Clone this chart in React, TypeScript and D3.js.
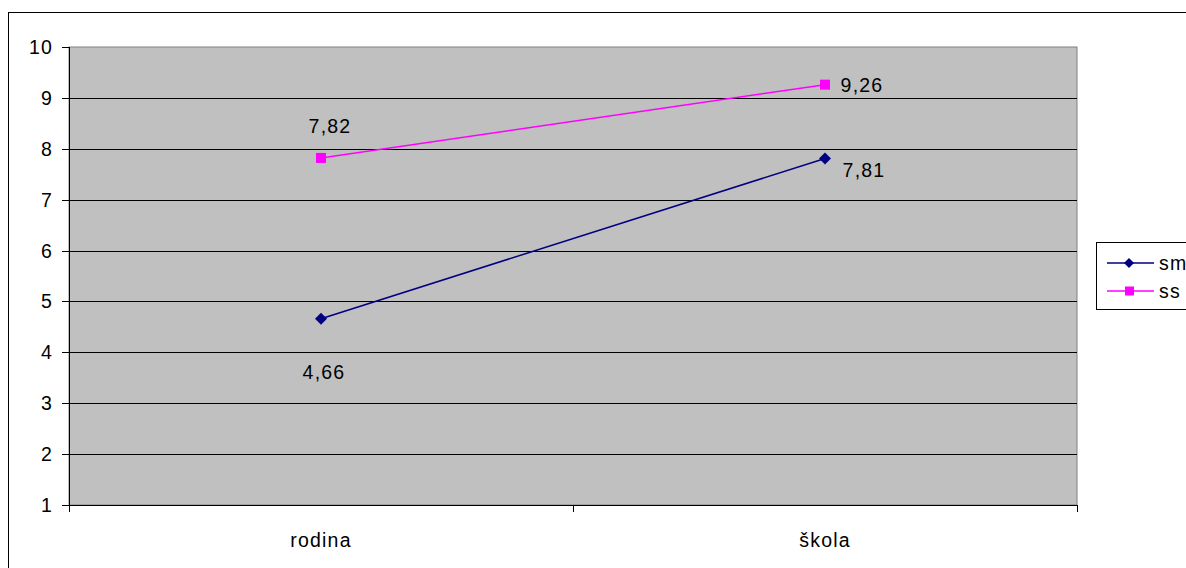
import React from "react";
import * as d3 from "d3";

const categories = ["rodina", "škola"];
const smValues = [4.66, 7.81];
const ssValues = [7.82, 9.26];
const yTicks = [1, 2, 3, 4, 5, 6, 7, 8, 9, 10];
const seriesNames = ["sm", "ss"];

export default function App() {
  const W = 1186, H = 568;
  const left = 69, right = 1077, top = 47, bottom = 505;
  const x = d3.scaleBand<string>().domain(categories).range([left, right]);
  const y = d3.scaleLinear().domain([1, 10]).range([bottom, top]);
  const cx = (c: string) => (x(c) as number) + x.bandwidth() / 2;
  const line = d3.line<number>().x((_, i) => cx(categories[i])).y((v) => y(v));
  const font = "'Liberation Sans', Arial, sans-serif";
  const navy = "#000080", mag = "#FF00FF";
  const fs = 19.5, ls = 1.2;
  const diamond = (px: number, py: number, r = 6) =>
    `M${px},${py - r}L${px + r},${py}L${px},${py + r}L${px - r},${py}Z`;

  // label offsets (dx to centre, dy to baseline) relative to marker
  const smLabelOff = [[3, 60], [39, 19]];
  const ssLabelOff = [[9, -25], [37, 7]];
  const fmt = (v: number) => v.toFixed(2).replace(".", ",");

  return (
    <svg width={W} height={H} style={{ position: "absolute", left: 0, top: 0 }} fontFamily={font}>
      <rect x={0} y={0} width={W} height={H} fill="#fff" />
      <rect x={8.5} y={12.5} width={W + 20} height={H + 20} fill="none" stroke="#000" strokeWidth={1} />
      <rect x={left} y={top} width={right - left} height={bottom - top} fill="#C0C0C0" stroke="#808080" strokeWidth={1} />
      {yTicks.map((t) => (
        <g key={t}>
          {t > 1 && t < 10 && (
            <line x1={left} x2={right} y1={Math.round(y(t)) + 0.5} y2={Math.round(y(t)) + 0.5} stroke="#000" />
          )}
          <line x1={left - 7} x2={left} y1={Math.round(y(t)) + 0.5} y2={Math.round(y(t)) + 0.5} stroke="#000" />
          <text x={left - 16} y={y(t) + 7} textAnchor="end" fontSize={fs} letterSpacing={ls} fill="#000">{t}</text>
        </g>
      ))}
      <line x1={left + 0.5} x2={left + 0.5} y1={top} y2={bottom + 7} stroke="#000" />
      <line x1={left} x2={right} y1={bottom + 0.5} y2={bottom + 0.5} stroke="#000" />
      {[left, left + x.bandwidth(), right].map((tx, i) => (
        <line key={i} x1={Math.round(tx) + 0.5} x2={Math.round(tx) + 0.5} y1={bottom} y2={bottom + 7} stroke="#000" />
      ))}
      {categories.map((c) => (
        <text key={c} x={cx(c)} y={547} textAnchor="middle" fontSize={fs} letterSpacing={ls} fill="#000">{c}</text>
      ))}
      <path d={line(smValues) || ""} fill="none" stroke={navy} strokeWidth={1.5} />
      <path d={line(ssValues) || ""} fill="none" stroke={mag} strokeWidth={1.5} />
      {smValues.map((v, i) => (
        <path key={i} d={diamond(cx(categories[i]), y(v))} fill={navy} />
      ))}
      {ssValues.map((v, i) => (
        <rect key={i} x={cx(categories[i]) - 5} y={y(v) - 5} width={10} height={10} fill={mag} />
      ))}
      {smValues.map((v, i) => (
        <text key={i} x={cx(categories[i]) + smLabelOff[i][0]} y={y(v) + smLabelOff[i][1]} textAnchor="middle" fontSize={fs} letterSpacing={ls} fill="#000">
          {fmt(v)}
        </text>
      ))}
      {ssValues.map((v, i) => (
        <text key={i} x={cx(categories[i]) + ssLabelOff[i][0]} y={y(v) + ssLabelOff[i][1]} textAnchor="middle" fontSize={fs} letterSpacing={ls} fill="#000">
          {fmt(v)}
        </text>
      ))}
      <rect x={1096.5} y={242.5} width={120} height={67} fill="#fff" stroke="#000" />
      {seriesNames.map((s, i) => {
        const ly = i === 0 ? 263 : 291;
        const col = i === 0 ? navy : mag;
        return (
          <g key={s}>
            <line x1={1107} x2={1154} y1={ly} y2={ly} stroke={col} strokeWidth={1.5} />
            {i === 0 ? (
              <path d={diamond(1129, ly, 5)} fill={col} />
            ) : (
              <rect x={1125} y={ly - 4.5} width={9} height={9} fill={col} />
            )}
            <text x={1159} y={ly + 7} fontSize={fs} letterSpacing={ls} fill="#000">{s}</text>
          </g>
        );
      })}
    </svg>
  );
}
